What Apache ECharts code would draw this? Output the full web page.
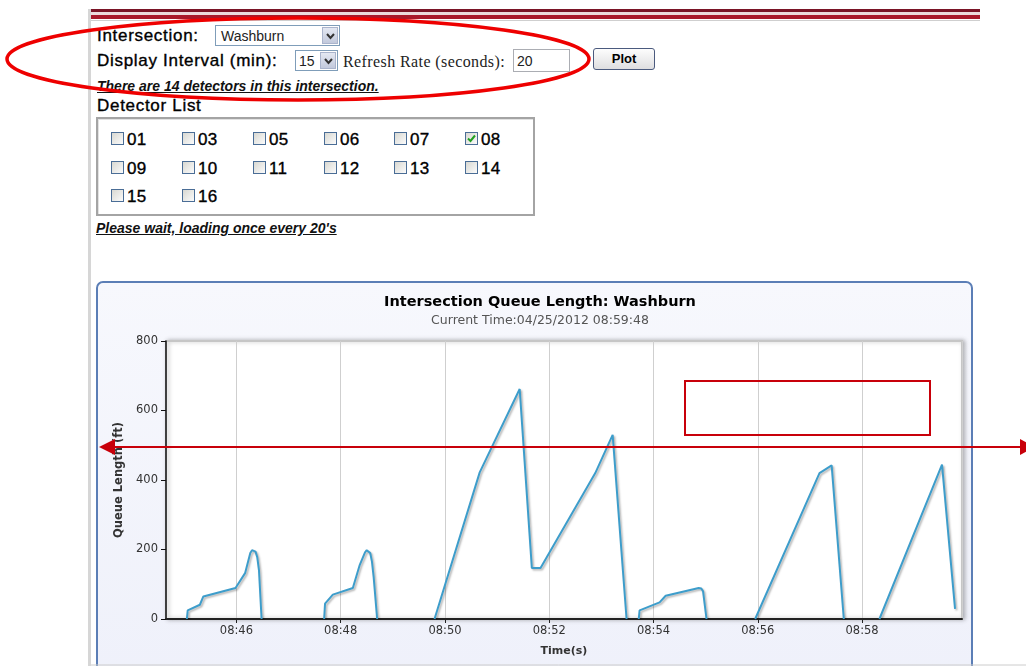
<!DOCTYPE html>
<html><head><meta charset="utf-8">
<script src="https://cdn.jsdelivr.net/npm/echarts@6/dist/echarts.min.js"></script>
<style>
html,body{margin:0;padding:0;width:1026px;height:666px;overflow:hidden;background:#fff;font-family:"Liberation Sans",Arial,sans-serif;color:#000;}
.a{position:absolute;white-space:nowrap;}
.lbl{font-size:17px;line-height:17px;letter-spacing:0.7px;-webkit-text-stroke:0.35px #000;}
.em{font-size:14px;line-height:14px;font-weight:bold;font-style:italic;text-decoration:underline;color:#111;}
.sel{position:absolute;background:#fff;border:1px solid #7f9db9;box-sizing:border-box;font-size:14px;color:#222;}
.arr{position:absolute;right:1px;top:1px;bottom:1px;width:16px;background:linear-gradient(#e4e8f2,#c2c9dc);border:1px solid #aab4cc;box-sizing:border-box;}
.arr svg{position:absolute;left:3px;top:5px;}
.cb{position:absolute;width:13px;height:13px;box-sizing:border-box;border:1px solid #4a6d96;background:linear-gradient(135deg,#d8d8d2,#fbfbfb);}
.cbl{position:absolute;font-size:17px;line-height:17px;-webkit-text-stroke:0.35px #000;letter-spacing:0.3px;}
#chart{position:absolute;left:0;top:0;width:1026px;height:666px;z-index:5;}
</style></head>
<body>
<!-- page frame -->
<div class="a" style="left:88px;top:9px;width:892px;height:3px;background:#7a1426"></div>
<div class="a" style="left:88px;top:12px;width:892px;height:3px;background:#ecdadc"></div>
<div class="a" style="left:88px;top:15px;width:892px;height:4px;background:#a8182a"></div>
<div class="a" style="left:88px;top:20px;width:892px;height:1px;background:#cfcfcf"></div>
<div class="a" style="left:88px;top:9px;width:3px;height:657px;background:#d6d6d6"></div>

<!-- form -->
<div class="a lbl" style="left:97px;top:27px;">Intersection:</div>
<div class="sel" style="left:215px;top:25px;width:125px;height:21px;"><span class="a" style="left:5px;top:2px;">Washburn</span>
<div class="arr"><svg width="9" height="7"><path d="M1 1 L4.5 5 L8 1" stroke="#333" stroke-width="2" fill="none"/></svg></div></div>
<div class="a lbl" style="left:97px;top:52px;">Display Interval (min):</div>
<div class="sel" style="left:295px;top:50px;width:43px;height:21px;"><span class="a" style="left:3px;top:2px;">15</span>
<div class="arr"><svg width="9" height="7"><path d="M1 1 L4.5 5 L8 1" stroke="#333" stroke-width="2" fill="none"/></svg></div></div>
<div class="a" style="left:343px;top:54px;font-family:'Liberation Serif','Times New Roman',serif;font-size:16px;line-height:15px;letter-spacing:0.4px;color:#222;">Refresh Rate (seconds):</div>
<div class="sel" style="left:513px;top:49px;width:57px;height:23px;border-color:#abadb3;"><span class="a" style="left:3px;top:3px;">20</span></div>
<div class="a" style="left:593px;top:48px;width:62px;height:22px;box-sizing:border-box;border:1px solid #4b5a7e;border-radius:3px;background:linear-gradient(#fdfdfd,#dedee0);font-weight:bold;font-size:13px;line-height:19px;text-align:center;">Plot</div>
<div class="a em" style="left:97px;top:79px;">There are 14 detectors in this intersection.</div>
<div class="a lbl" style="left:97px;top:97px;">Detector List</div>
<div class="a" style="left:96px;top:117px;width:439px;height:99px;box-sizing:border-box;border:2px solid #a4a4a4;box-shadow:inset 1px 1px 0 #e2e2e2;background:#fff;"></div>
<div id="cbs"></div>
<div class="a em" style="left:96px;top:221px;">Please wait, loading once every 20's</div>

<div id="chart"></div>
<script>
// ---- chart data ----
const sampleTimes = [
  '08:45:03','08:45:04','08:45:18','08:45:22','08:45:59','08:46:10','08:46:16','08:46:18','08:46:20','08:46:22','08:46:24','08:46:26','08:46:29',
  '08:47:00',
  '08:47:41','08:47:42','08:47:51','08:48:14','08:48:22','08:48:28','08:48:30','08:48:32','08:48:34','08:48:36','08:48:38','08:48:42',
  '08:49:00',
  '08:49:48','08:50:40','08:51:26','08:51:40','08:51:50','08:52:53','08:53:13','08:53:29',
  '08:53:38',
  '08:53:43','08:53:44','08:54:07','08:54:14','08:54:52','08:54:55','08:54:57','08:55:01',
  '08:55:30',
  '08:55:57','08:57:11','08:57:25','08:57:39',
  '08:58:00',
  '08:58:20','08:59:32','08:59:47'
];
const queueLength = [
  0,25,41,65,89,132,190,198,199,194,178,140,0,
  null,
  0,44,70,89,156,192,198,198,190,165,120,0,
  null,
  0,422,662,147,147,420,530,0,
  null,
  0,25,48,67,89,88,80,0,
  null,
  0,420,442,0,
  null,
  0,444,29
];
const xRange = ['08:44:39','08:59:55'];
const yTickLabels = ['0','200','400','600','800'];
const detectorIds = ['01','03','05','06','07','08','09','10','11','12','13','14','15','16'];
const checkedDetectors = ['08'];

// ---- detector checkboxes (page UI) ----
(function(){
  const cols=[111,182,253,324,394,465], rows=[132,161,189];
  let h='';
  detectorIds.forEach((id,i)=>{
    const x=cols[i%6], y=rows[Math.floor(i/6)];
    h+='<div class="cb" style="left:'+x+'px;top:'+y+'px;">'+(checkedDetectors.includes(id)?'<svg width="11" height="11" style="position:absolute;left:0;top:0"><path d="M2 5.5 L4.5 8 L9 2.5" stroke="#22a022" stroke-width="2" fill="none"/></svg>':'')+'</div>';
    h+='<div class="cbl" style="left:'+(x+16)+'px;top:'+(y-1)+'px;">'+id+'</div>';
  });
  document.getElementById('cbs').innerHTML=h;
})();

function ts(t){const p=t.split(':').map(Number);return new Date(2012,3,25,p[0],p[1],p[2]).getTime();}
const seriesData = sampleTimes.map((t,i)=>[ts(t), queueLength[i]]);
const yVals = yTickLabels.map(Number);

const chart = echarts.init(document.getElementById('chart'), null, {renderer:'canvas'});
const FF = 'DejaVu Sans';
chart.setOption({
  animation:false,
  title:{
    text:'Intersection Queue Length: Washburn',
    subtext:'Current Time:04/25/2012 08:59:48',
    left:535, top:290, textAlign:'center', itemGap:4,
    textStyle:{fontFamily:FF, fontSize:14.5, fontWeight:'bold', color:'#000'},
    subtextStyle:{fontFamily:FF, fontSize:12.5, color:'#555'}
  },
  grid:{left:166, right:64, top:341, bottom:47, show:true, backgroundColor:'#fff',
    borderColor:'#c6c6c6', borderWidth:2, shadowColor:'rgba(0,0,0,0.25)', shadowBlur:4, shadowOffsetX:2},
  xAxis:{
    type:'time', min:ts(xRange[0]), max:ts(xRange[1]), minInterval:150000, maxInterval:150000,
    axisLine:{lineStyle:{color:'#222', width:2}},
    axisTick:{show:true, length:4, lineStyle:{color:'#222'}},
    axisLabel:{formatter:'{HH}:{mm}', color:'#333', fontFamily:FF, fontSize:11.5, margin:6, showMinLabel:false, showMaxLabel:false},
    splitLine:{show:true, lineStyle:{color:'#cfcfcf', width:1}},
    name:'Time(s)', nameLocation:'middle', nameGap:27,
    nameTextStyle:{fontFamily:FF, fontSize:11, fontWeight:'bold', color:'#333'}
  },
  yAxis:{
    type:'value', min:yVals[0], max:yVals[yVals.length-1], interval:yVals[1]-yVals[0],
    axisLine:{show:true, lineStyle:{color:'#111', width:1.5}},
    axisTick:{show:true, length:5, lineStyle:{color:'#111'}},
    axisLabel:{color:'#333', fontFamily:FF, fontSize:11.5, margin:8},
    splitLine:{show:false},
    name:'Queue Length (ft)', nameLocation:'middle', nameGap:41,
    nameTextStyle:{fontFamily:FF, fontSize:11.5, fontWeight:'bold', color:'#333'}
  },
  series:[{
    type:'line', data:seriesData, symbol:'none', connectNulls:false, z:3,
    lineStyle:{color:'#3d9dcb', width:2, shadowColor:'rgba(0,0,0,0.3)', shadowBlur:2, shadowOffsetX:1.5, shadowOffsetY:1.5}
  }],
  graphic:[
    {type:'rect', z:-10, silent:true, shape:{x:97,y:282,width:875,height:430,r:6},
      style:{fill:new echarts.graphic.LinearGradient(0,0,0,1,[{offset:0,color:'#f7f8fd'},{offset:1,color:'#eef0fa'}]), stroke:'#5b7eb6', lineWidth:2}},
    {type:'line', z:-9, silent:true, shape:{x1:91,y1:665,x2:1026,y2:665}, style:{stroke:'#cccccc', lineWidth:1}},
    {type:'ellipse', z:100, silent:true, shape:{cx:298,cy:59,rx:291,ry:41}, style:{fill:'rgba(0,0,0,0)', stroke:'#ee0000', lineWidth:3.5}},
    {type:'line', z:100, silent:true, shape:{x1:110,y1:447,x2:1020,y2:447}, style:{stroke:'#c8000a', lineWidth:2}},
    {type:'polygon', z:100, silent:true, shape:{points:[[99,447],[115,439],[115,455]]}, style:{fill:'#c8000a'}},
    {type:'polygon', z:100, silent:true, shape:{points:[[1035,447],[1020,439],[1020,455]]}, style:{fill:'#c8000a'}},
    {type:'rect', z:100, silent:true, shape:{x:685,y:381,width:245,height:54}, style:{fill:'rgba(0,0,0,0)', stroke:'#c8000a', lineWidth:2}}
  ]
});
</script>
</body></html>
